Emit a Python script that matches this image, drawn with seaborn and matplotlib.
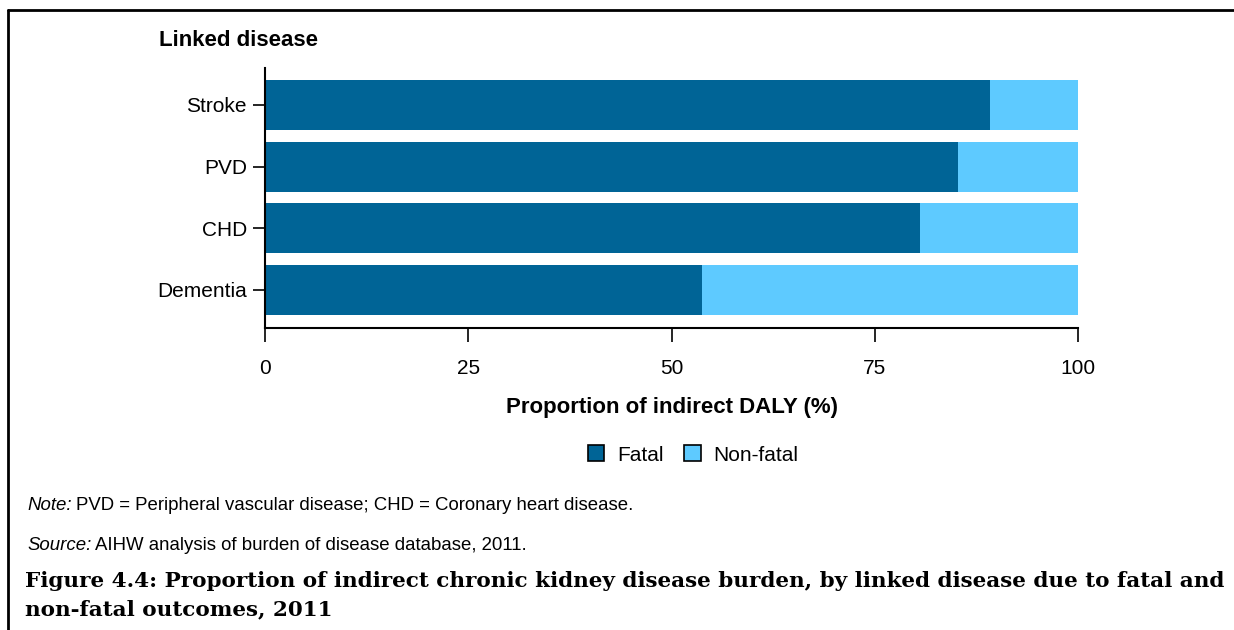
import numpy as np
import pandas as pd
import seaborn as sns
import matplotlib as mpl
import matplotlib.pyplot as plt
from matplotlib.patches import Patch
from matplotlib.lines import Line2D

# data
diseases = ['Stroke', 'PVD', 'CHD', 'Dementia']
fatal = [89.2, 85.2, 80.6, 53.8]
total = [100, 100, 100, 100]
xticks = [0, 25, 50, 75, 100]

darkBlue = '#006496'
lightBlue = '#5ECAFF'

sns.set_style('white')
mpl.rcParams['font.family'] = ['Liberation Sans', 'DejaVu Sans']
mpl.rcParams['text.color'] = 'black'
mpl.rcParams['xtick.color'] = 'black'
mpl.rcParams['ytick.color'] = 'black'
mpl.rcParams['axes.labelcolor'] = 'black'

W, H = 1234, 630

d = pd.DataFrame({'disease': diseases, 'fatal': fatal, 'total': total})

fig = plt.figure(figsize=(W/100, H/100), dpi=100)
ax = fig.add_axes([265/W, 1-328/H, (1078-265)/W, 260/H])

sns.barplot(data=d, y='disease', x='total', order=diseases, color=lightBlue,
            saturation=1, width=0.81, linewidth=0, ax=ax)
sns.barplot(data=d, y='disease', x='fatal', order=diseases, color=darkBlue,
            saturation=1, width=0.81, linewidth=0, ax=ax)

ax.set_xlim(0, 100)
ax.set_ylim(3.62, -0.6)
ax.set_xticks(xticks)
ax.set_xticklabels([str(t) for t in xticks], fontsize=15)
ax.set_yticklabels(diseases, fontsize=15)
ax.tick_params(axis='x', direction='out', length=10, width=1.2, pad=12, bottom=True)
ax.tick_params(axis='y', direction='out', length=9, width=1.2, pad=4, left=True)
sns.despine(ax=ax)
for s in ['left', 'bottom']:
    ax.spines[s].set_linewidth(1.5)
    ax.spines[s].set_color('black')
ax.set_ylabel('')
ax.set_xlabel('Proportion of indirect DALY (%)', fontsize=16, fontweight='bold', labelpad=14)

fig.text(159/W, 1-41/H, 'Linked disease', fontsize=16, fontweight='bold', ha='left', va='center')

handles = [Patch(facecolor=darkBlue, edgecolor='black', linewidth=1.2, label='Fatal'),
           Patch(facecolor=lightBlue, edgecolor='black', linewidth=1.2, label='Non-fatal')]
fig.legend(handles=handles, loc='center', bbox_to_anchor=(693/W, 1-455/H), ncol=2,
           frameon=False, fontsize=15, handlelength=0.8, handleheight=0.8,
           handletextpad=0.6, columnspacing=1.0)

# note and source with italic lead-in
def leadText(y, lead, rest, size=13.4):
    t = fig.text(27/W, 1-y/H, lead, fontsize=size, style='italic', va='center', ha='left')
    fig.canvas.draw()
    bb = t.get_window_extent()
    fig.text((bb.x1 + 4)/W, 1-y/H, rest, fontsize=size, va='center', ha='left')

leadText(506, 'Note:', 'PVD = Peripheral vascular disease; CHD = Coronary heart disease.')
leadText(546, 'Source:', 'AIHW analysis of burden of disease database, 2011.')

fig.text(25/W, 1-581/H,
         'Figure 4.4: Proportion of indirect chronic kidney disease burden, by linked disease due to fatal and',
         fontsize=15.45, fontweight='bold', family=['DejaVu Serif'], va='center', ha='left')
fig.text(25/W, 1-609/H, 'non-fatal outcomes, 2011',
         fontsize=15.45, fontweight='bold', family=['DejaVu Serif'], va='center', ha='left')

# frame lines top and left
fig.add_artist(Line2D([8/W, 1], [1-10/H, 1-10/H], color='black', linewidth=2))
fig.add_artist(Line2D([8/W, 8/W], [0, 1-10/H], color='black', linewidth=2))

fig.savefig('out.png', dpi=100)
